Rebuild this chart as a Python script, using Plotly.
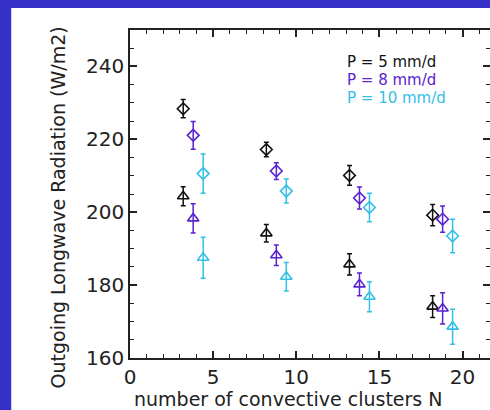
import plotly.graph_objects as go

# ---- data ----
series_names = ["P = 5 mm/d", "P = 8 mm/d", "P = 10 mm/d"]
series_colors = ["#111111", "#5a22d0", "#33bfe6"]
x_black = [3.2, 8.2, 13.2, 18.2]
x_purple = [3.8, 8.8, 13.8, 18.8]
x_cyan = [4.4, 9.4, 14.4, 19.4]

# diamonds (upper group)
dia_black = [228.4, 217.2, 210.1, 199.2]
dia_black_err = [2.5, 2.0, 2.7, 2.9]
dia_purple = [221.1, 211.3, 203.9, 198.1]
dia_purple_err = [3.8, 2.3, 3.0, 3.6]
dia_cyan = [210.6, 205.8, 201.3, 193.5]
dia_cyan_err = [5.4, 3.3, 3.9, 4.6]

# triangles (lower group)
tri_black = [204.4, 194.2, 185.7, 174.1]
tri_black_err = [2.6, 2.4, 2.9, 3.0]
tri_purple = [198.3, 188.2, 180.2, 173.6]
tri_purple_err = [4.0, 2.8, 3.1, 4.3]
tri_cyan = [187.5, 182.3, 176.8, 168.6]
tri_cyan_err = [5.6, 3.9, 4.1, 4.8]

x_ticks = [0, 5, 10, 15, 20]
y_ticks = [160, 180, 200, 220, 240]
y_title = "Outgoing Longwave Radiation (W/m2)"
x_title = "number of convective clusters N"

FONT = "DejaVu Sans"
AXC = "#222222"

fig = go.Figure()

groups = [
    (x_black, dia_black, dia_black_err, tri_black, tri_black_err, series_colors[0]),
    (x_purple, dia_purple, dia_purple_err, tri_purple, tri_purple_err, series_colors[1]),
    (x_cyan, dia_cyan, dia_cyan_err, tri_cyan, tri_cyan_err, series_colors[2]),
]
for xs, dv, de, tv, te, col in groups:
    fig.add_trace(go.Scatter(
        x=xs, y=dv, mode="markers",
        marker=dict(symbol="diamond-open", size=9, color=col, line=dict(width=1.6, color=col)),
        error_y=dict(type="data", array=de, visible=True, color=col, thickness=1.5, width=2.5),
        showlegend=False, hoverinfo="skip"))
    fig.add_trace(go.Scatter(
        x=xs, y=tv, mode="markers",
        marker=dict(symbol="triangle-up-open", size=10, color=col, line=dict(width=1.6, color=col)),
        error_y=dict(type="data", array=te, visible=True, color=col, thickness=1.5, width=2.5),
        showlegend=False, hoverinfo="skip"))

# invisible trace for right-hand tick axis
fig.add_trace(go.Scatter(x=[None], y=[None], yaxis="y2", showlegend=False, hoverinfo="skip"))

# white panel over blue page background
fig.add_shape(type="rect", xref="paper", yref="paper",
              x0=-0.33, x1=1.05, y0=-0.2, y1=1 + 22 / 328,
              fillcolor="white", line=dict(width=0), layer="below")

# legend text
leg_y = [(358 - 62) / 328, (358 - 80) / 328, (358 - 98) / 328]
for name, col, yy in zip(series_names, series_colors, leg_y):
    fig.add_annotation(text=name, x=0.597, y=yy, xref="paper", yref="paper",
                       xanchor="left", yanchor="middle", showarrow=False,
                       font=dict(family=FONT, size=15, color=col))

# axis titles as annotations
fig.add_annotation(text=y_title, x=(57 - 130) / 360, y=(358 - 207.5) / 328,
                   xref="paper", yref="paper", textangle=-90, showarrow=False,
                   xanchor="center", yanchor="middle",
                   font=dict(family=FONT, size=19, color=AXC))
fig.add_annotation(text=x_title, x=(132 - 130) / 360, y=(358 - 399) / 328,
                   xref="paper", yref="paper", showarrow=False,
                   xanchor="left", yanchor="middle",
                   font=dict(family=FONT, size=19, color=AXC))

fig.update_layout(
    width=490, height=410,
    margin=dict(l=130, r=0, t=30, b=52),
    paper_bgcolor="#3530c8",
    plot_bgcolor="rgba(0,0,0,0)",
    showlegend=False,
    xaxis=dict(range=[0, 21.65], tickvals=x_ticks, ticks="inside", ticklen=7, tickwidth=1.5,
               tickcolor=AXC, showline=True, linecolor=AXC, linewidth=1.5, mirror="ticks",
               showgrid=False, zeroline=False,
               minor=dict(dtick=1, tick0=0, ticks="inside", ticklen=4, tickwidth=1.2, tickcolor=AXC),
               tickfont=dict(family=FONT, size=20, color=AXC)),
    yaxis=dict(range=[160, 250], tickvals=y_ticks, ticks="inside", ticklen=7, tickwidth=1.5,
               tickcolor=AXC, showline=True, linecolor=AXC, linewidth=1.5, mirror=False,
               showgrid=False, zeroline=False,
               minor=dict(dtick=5, tick0=160, ticks="inside", ticklen=4, tickwidth=1.2, tickcolor=AXC),
               tickfont=dict(family=FONT, size=20, color=AXC)),
    yaxis2=dict(range=[160, 250], overlaying="y", side="right", anchor="x",
                tickvals=y_ticks, ticks="inside", ticklen=7, tickwidth=1.5, tickcolor=AXC,
                showline=False, showgrid=False, zeroline=False, showticklabels=False,
                minor=dict(dtick=5, tick0=160, ticks="inside", ticklen=4, tickwidth=1.2, tickcolor=AXC)),
)

fig.write_html("out.html")
